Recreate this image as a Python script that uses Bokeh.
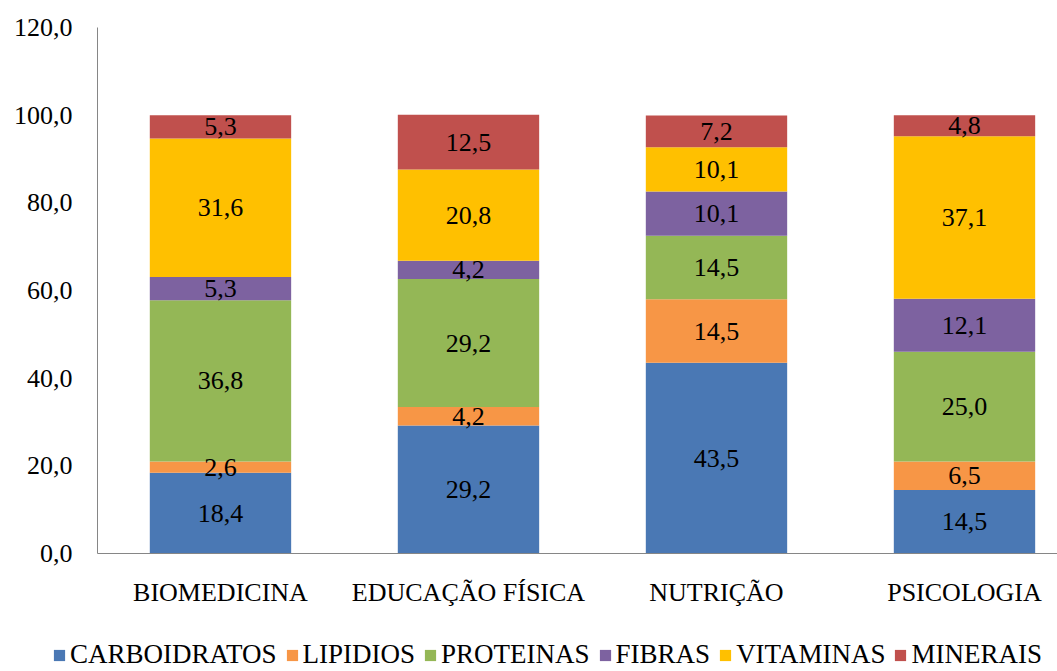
from bokeh.plotting import figure
from bokeh.models import ColumnDataSource, Range1d, FixedTicker, Legend
from bokeh.core.properties import value
from bokeh.embed import file_html
from bokeh.resources import INLINE

categories = ["BIOMEDICINA", "EDUCAÇÃO FÍSICA", "NUTRIÇÃO", "PSICOLOGIA"]
series = ["CARBOIDRATOS", "LIPIDIOS", "PROTEINAS", "FIBRAS", "VITAMINAS", "MINERAIS"]
carboidratos = [18.4, 29.2, 43.5, 14.5]
lipidios = [2.6, 4.2, 14.5, 6.5]
proteinas = [36.8, 29.2, 14.5, 25.0]
fibras = [5.3, 4.2, 10.1, 12.1]
vitaminas = [31.6, 20.8, 10.1, 37.1]
minerais = [5.3, 12.5, 7.2, 4.8]
y_ticks = [0, 20, 40, 60, 80, 100, 120]
y_tick_labels = ["0,0", "20,0", "40,0", "60,0", "80,0", "100,0", "120,0"]

colors = ["#4A78B4", "#F79646", "#94B756", "#7D62A0", "#FFC000", "#C0504D"]
FONT = "'Liberation Serif', 'Times New Roman', Tinos, 'DejaVu Serif', serif"

values = [carboidratos, lipidios, proteinas, fibras, vitaminas, minerais]
xs = list(range(len(categories)))
data = {"x": xs}
for name, vals in zip(series, values):
    data[name] = vals
source = ColumnDataSource(data)

# frame fills the whole canvas; axes are pinned at fixed locations
X0, X1 = -0.887, 3.375      # visible x extent (category units)
AX_X = -0.496               # where the y axis sits
Y0, Y1 = -26.92, 126.16     # visible y extent

p = figure(width=1057, height=671, output_backend="svg", toolbar_location=None,
           x_range=Range1d(X0, X1), y_range=Range1d(Y0, Y1),
           min_border_left=0, min_border_right=0, min_border_top=0,
           min_border_bottom=0)
p.outline_line_color = None
p.xgrid.grid_line_color = None
p.ygrid.grid_line_color = None

renderers = p.vbar_stack(series, x="x", width=0.57, color=colors, line_color=None,
                         source=source)

# labels
lx, ly, lt = [], [], []
for i in xs:
    cum = 0.0
    for vals in values:
        v = vals[i]
        lx.append(i)
        ly.append(cum + v / 2)
        lt.append(f"{v:.1f}".replace(".", ","))
        cum += v
p.text(x=lx, y=ly, text=lt, text_align="center", text_baseline="middle",
       text_font=value(FONT), text_font_size="26px", text_color="black")

# axes
p.xaxis.ticker = FixedTicker(ticks=xs)
p.xaxis.major_label_overrides = {i: c for i, c in zip(xs, categories)}
p.yaxis.ticker = FixedTicker(ticks=y_ticks)
p.yaxis.major_label_overrides = {t: l for t, l in zip(y_ticks, y_tick_labels)}
for ax in (p.xaxis, p.yaxis):
    ax.axis_line_color = "#868686"
    ax.major_tick_line_color = None
    ax.minor_tick_line_color = None
    ax.major_tick_out = 0
    ax.major_tick_in = 0
    ax.major_label_text_font = FONT
    ax.major_label_text_font_size = "26px"
    ax.major_label_text_color = "black"
p.xaxis.fixed_location = 0
p.xaxis.bounds = (AX_X, X1)
p.yaxis.fixed_location = AX_X
p.yaxis.bounds = (0, 120)
p.xaxis.major_label_standoff = 24
p.yaxis.major_label_standoff = 25

legend = Legend(items=[(s, [r]) for s, r in zip(series, renderers)],
                orientation="horizontal", location=(52, 1),
                glyph_width=14, glyph_height=14, label_standoff=4, spacing=8,
                padding=0, margin=0, border_line_alpha=0, background_fill_alpha=0,
                label_text_font=FONT, label_text_font_size="27px",
                label_text_color="black")
p.add_layout(legend, "center")

open("out.html", "w").write(file_html(p, INLINE))
